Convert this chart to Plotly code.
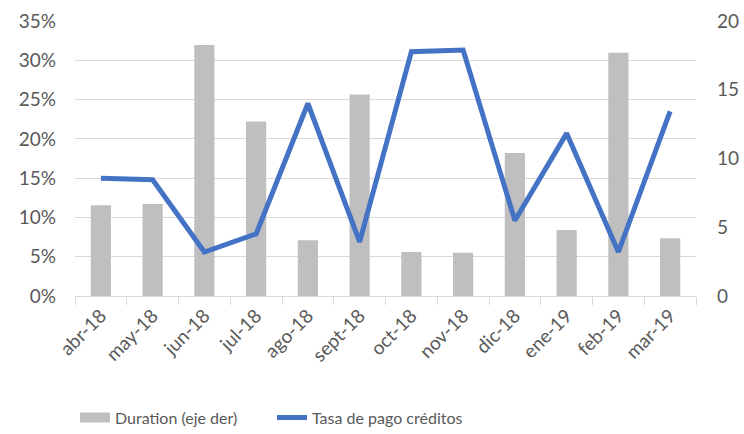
import plotly.graph_objects as go

months = ["abr-18", "may-18", "jun-18", "jul-18", "ago-18", "sept-18",
          "oct-18", "nov-18", "dic-18", "ene-19", "feb-19", "mar-19"]
duration = [6.6, 6.7, 18.25, 12.7, 4.05, 14.65, 3.2, 3.15, 10.4, 4.8, 17.7, 4.2]
tasa = [0.150, 0.148, 0.056, 0.079, 0.245, 0.069, 0.311, 0.313, 0.096, 0.207, 0.056, 0.235]

font_family = "Lato, 'Open Sans', sans-serif"
grey_text = "#595959"
fs = 19

fig = go.Figure()
fig.add_trace(go.Bar(
    x=months, y=duration, name="Duration (eje der)",
    marker=dict(color="#BFBFBF", line=dict(width=0)),
    yaxis="y", showlegend=False,
))
# legend-only entry that mimics the wide grey rectangle legend key
fig.add_trace(go.Scatter(
    x=[None], y=[None], name="Duration (eje der)",
    mode="lines", line=dict(color="#BFBFBF", width=13),
    yaxis="y", hoverinfo="skip",
))
fig.add_trace(go.Scatter(
    x=months, y=tasa, name="Tasa de pago créditos",
    mode="lines", line=dict(color="#4472C4", width=5),
    yaxis="y2",
))

fig.update_layout(
    width=744, height=434,
    margin=dict(l=75, r=48, t=21, b=138, autoexpand=False),
    paper_bgcolor="white", plot_bgcolor="white",
    font=dict(family=font_family, color=grey_text, size=fs),
    bargap=0.61,
    showlegend=True,
    legend=dict(orientation="h", x=0.0, xanchor="left", y=-0.38, yanchor="top",
                font=dict(size=16, color=grey_text), traceorder="normal",
                entrywidth=152, entrywidthmode="pixels"),
    xaxis=dict(
        tickangle=-45, showgrid=False, showline=True, linecolor="#D9D9D9", linewidth=1.3,
        ticks="outside", tickson="boundaries", ticklen=8, tickcolor="#D9D9D9",
        tickfont=dict(size=fs, color=grey_text), automargin=False,
    ),
    yaxis=dict(
        side="right", range=[0, 20], tickvals=[0, 5, 10, 15, 20],
        showgrid=False, zeroline=False, showline=False,
        tickfont=dict(size=fs, color=grey_text), ticks="", ticklabelstandoff=20,
        automargin=False,
    ),
    yaxis2=dict(
        side="left", overlaying="y", range=[0, 0.35],
        tickvals=[0, 0.05, 0.10, 0.15, 0.20, 0.25, 0.30, 0.35],
        tickformat=".0%", showgrid=True, gridcolor="#D9D9D9", gridwidth=1.3,
        zeroline=False, showline=False,
        tickfont=dict(size=fs, color=grey_text), ticks="", ticklabelstandoff=18,
        automargin=False,
    ),
)

fig.write_html("out.html", post_script="document.body.style.margin='0';",
               config={"displayModeBar": False})
